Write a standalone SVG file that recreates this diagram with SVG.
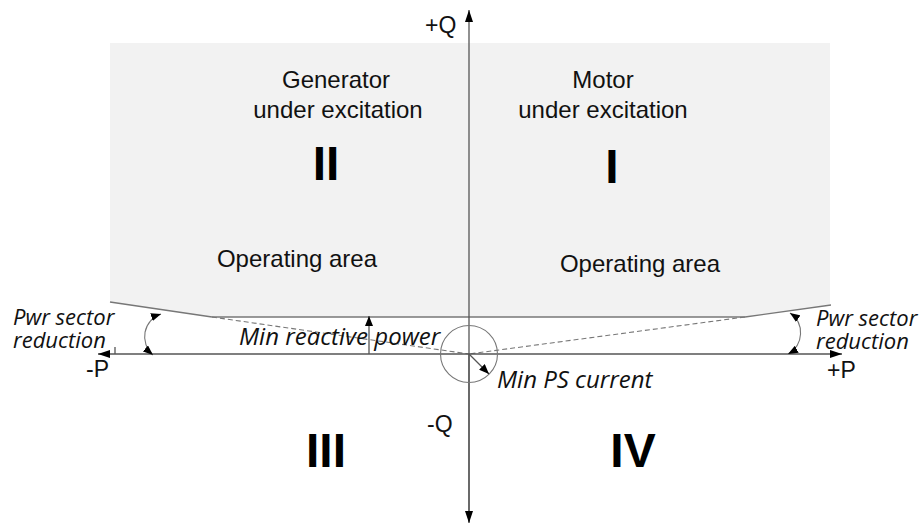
<svg xmlns="http://www.w3.org/2000/svg" width="920" height="525" viewBox="0 0 920 525">
<defs>
<marker id="ah" viewBox="0 0 12 8" refX="12" refY="4" markerWidth="12" markerHeight="8" markerUnits="userSpaceOnUse" orient="auto-start-reverse">
<path d="M0,0 L12,4 L0,8 Z" fill="#000"/>
</marker>
<marker id="ahs" viewBox="0 0 10 8" refX="10" refY="4" markerWidth="10" markerHeight="8" markerUnits="userSpaceOnUse" orient="auto-start-reverse">
<path d="M0,0 L10,4 L0,8 Z" fill="#000"/>
</marker>
<style>
.lbl{font-family:"Liberation Sans",Arial,sans-serif;font-size:24px;fill:#111;text-anchor:middle}
.roman{font-family:"Liberation Sans",Arial,sans-serif;font-weight:bold;font-size:48px;fill:#000;text-anchor:middle}
.it{font-family:"Open Sans","DejaVu Sans",sans-serif;font-style:italic;fill:#111}
.pwr{font-size:22px}
.min{font-size:24px}
.ax{font-family:"Liberation Sans",Arial,sans-serif;font-size:23px;fill:#111}
.axis{stroke:#555;stroke-width:1.3;fill:none}
.bound{stroke:#777;stroke-width:1.3;fill:none}
.dash{stroke:#777;stroke-width:1.1;stroke-dasharray:5,3;fill:none}
.arc{stroke:#777;stroke-width:1.1;fill:none}
</style>
</defs>
<g id="operating-area">
<polygon points="110,43 830,43 830,305 745,317 212,317 110,302" fill="#f2f2f2"/>
</g>
<g id="connectors">
<line class="bound" x1="110" y1="302" x2="212" y2="317"/>
<line class="bound" x1="212" y1="317" x2="745" y2="317"/>
<line class="bound" x1="745" y1="317" x2="831" y2="305"/>
<line class="dash" x1="212" y1="317" x2="469" y2="354"/>
<line class="dash" x1="745" y1="317" x2="469" y2="354"/>
<line class="axis" x1="469" y1="522" x2="469" y2="10" marker-end="url(#ah)"/>
<line class="axis" x1="469" y1="354" x2="469" y2="523" marker-end="url(#ah)"/>
<line class="axis" x1="469" y1="354" x2="98" y2="354" marker-end="url(#ah)"/>
<line class="axis" x1="469" y1="354" x2="842" y2="354" marker-end="url(#ah)"/>
<line class="axis" x1="115" y1="347" x2="115" y2="354"/>
<line class="axis" x1="369" y1="354" x2="369" y2="316" marker-end="url(#ahs)"/>
<circle class="arc" cx="469" cy="354" r="28.5"/>
<line class="axis" x1="469" y1="354" x2="489" y2="374" marker-end="url(#ahs)"/>
<path class="arc" d="M161,314 A24,24 0 0 0 153,355" marker-start="url(#ahs)" marker-end="url(#ahs)"/>
<path class="arc" d="M790,313 A24,24 0 0 1 788,354" marker-start="url(#ahs)" marker-end="url(#ahs)"/>
</g>
<g id="quadrant-II">
<text class="lbl" x="336" y="88">Generator</text>
<text class="lbl" x="338" y="118">under excitation</text>
<text class="roman" x="326" y="180">II</text>
<text class="lbl" x="297" y="267">Operating area</text>
</g>
<g id="quadrant-I">
<text class="lbl" x="603" y="88">Motor</text>
<text class="lbl" x="603" y="118">under excitation</text>
<text class="roman" x="612" y="183">I</text>
<text class="lbl" x="640" y="272">Operating area</text>
</g>
<g id="quadrant-III">
<text class="roman" x="326" y="467">III</text>
</g>
<g id="quadrant-IV">
<text class="roman" x="633" y="467">IV</text>
</g>
<g id="axis-labels">
<text class="ax" x="425" y="33">+Q</text>
<text class="ax" x="427" y="432">-Q</text>
<text class="ax" x="86" y="377">-P</text>
<text class="ax" x="827" y="378">+P</text>
</g>
<g id="annotations">
<text class="it pwr" x="13" y="325">Pwr sector</text>
<text class="it pwr" x="13" y="348">reduction</text>
<text class="it pwr" x="816" y="326">Pwr sector</text>
<text class="it pwr" x="816" y="349">reduction</text>
<text class="it min" x="239" y="345">Min reactive power</text>
<text class="it min" x="497" y="388">Min PS current</text>
</g>
</svg>
